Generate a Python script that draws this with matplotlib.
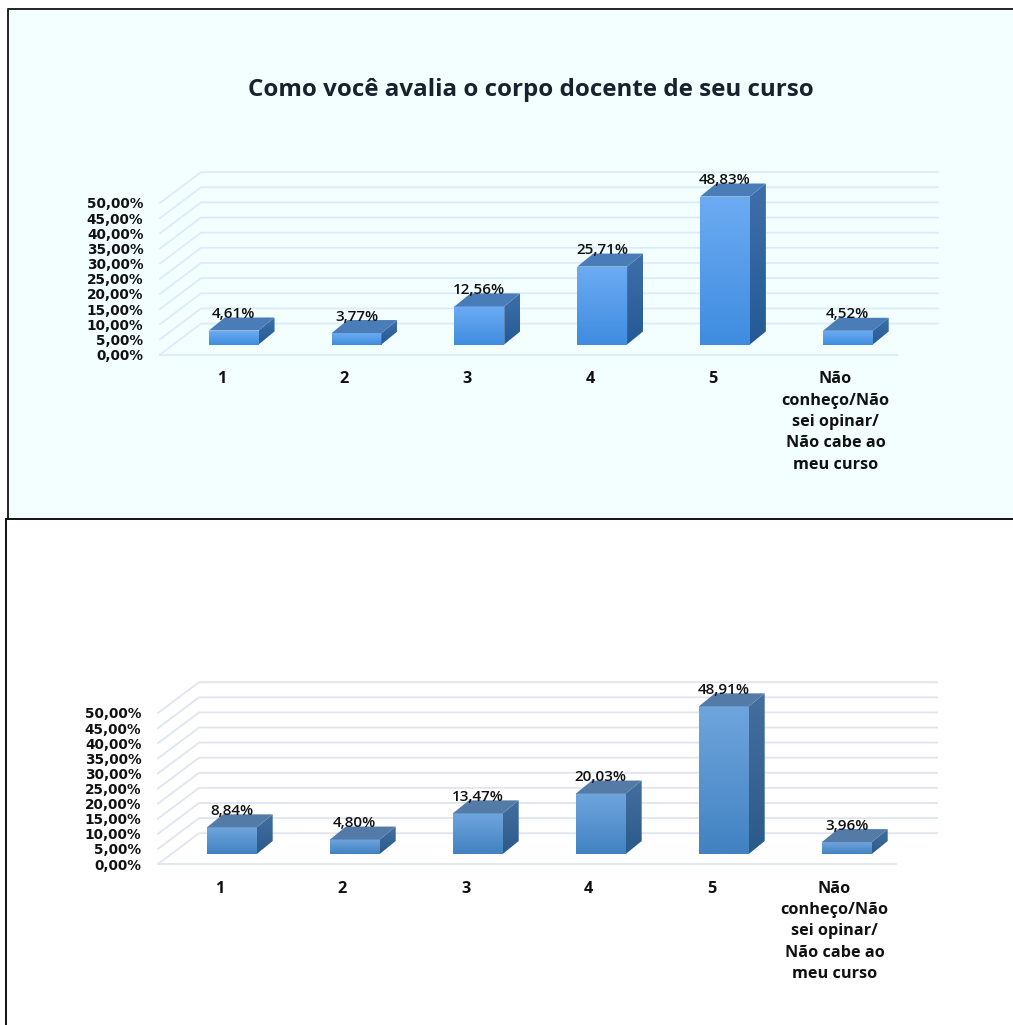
import matplotlib
matplotlib.use('Agg')
import matplotlib.pyplot as plt
import numpy as np
from matplotlib.colors import LinearSegmentedColormap
from matplotlib.patches import Polygon, Rectangle

W, H = 1013, 1025

categories = ['1', '2', '3', '4', '5', 'Não\nconheço/Não\nsei opinar/\nNão cabe ao\nmeu curso']
values_top = [4.61, 3.77, 12.56, 25.71, 48.83, 4.52]
values_bottom = [8.84, 4.80, 13.47, 20.03, 48.91, 3.96]
y_ticks = [0, 5, 10, 15, 20, 25, 30, 35, 40, 45, 50]
y_labels = ['0,00%', '5,00%', '10,00%', '15,00%', '20,00%', '25,00%',
            '30,00%', '35,00%', '40,00%', '45,00%', '50,00%']
title = 'Como você avalia o corpo docente de seu curso'

style_top = dict(grid='#dcebfb', front=('#3f8ce0', '#6cabf2'), side=('#245a96', '#3f6fa8'), roof='#4a7cb8')
style_bottom = dict(grid='#e0e5ee', front=('#4282c2', '#6fa5dd'), side=('#2b5b8b', '#436f9f'), roof='#547ba8')

plt.rcParams['font.family'] = ['Open Sans', 'DejaVu Sans']

fig = plt.figure(figsize=(W / 100, H / 100), dpi=100, facecolor='white')


def px_axes(left, right, top, bottom):
    return fig.add_axes([left / W, 1 - bottom / H, (right - left) / W, (bottom - top) / H])


def gradient(ax, x0, x1, y0, y1, colors, clip=None):
    cmap = LinearSegmentedColormap.from_list('g', colors)
    im = ax.imshow(np.linspace(1, 0, 64).reshape(-1, 1), cmap=cmap, extent=(x0, x1, y0, y1),
                   aspect='auto', zorder=3, interpolation='bilinear', clip_on=False)
    if clip is not None:
        clip.set_transform(ax.transData)
        im.set_clip_on(True)
        im.set_clip_box(fig.bbox)
        im.set_clip_path(clip)


def draw_chart(ax, values, st):
    wall_dx, wall_dy = 0.334, 10.2
    bar_w, bar_dx, bar_dy, lift = 0.405, 0.13, 4.3, 3.3

    for t in y_ticks:
        ax.plot([0, wall_dx, 6 + wall_dx], [t, t + wall_dy, t + wall_dy], color=st['grid'], lw=1.3,
                zorder=1, clip_on=False)
    ax.plot([0, 6], [0, 0], color=st['grid'], lw=1.3, zorder=1, clip_on=False)

    for i, v in enumerate(values):
        x0 = i + 0.6 - bar_w / 2
        x1 = x0 + bar_w
        y0, y1 = lift, lift + v
        gradient(ax, x0, x1, y0, y1, st['front'])
        side = [(x1, y0), (x1 + bar_dx, y0 + bar_dy), (x1 + bar_dx, y1 + bar_dy), (x1, y1)]
        gradient(ax, x1, x1 + bar_dx, y0, y1 + bar_dy, st['side'], clip=Polygon(side))
        ax.add_patch(Polygon([(x0, y1), (x1, y1), (x1 + bar_dx, y1 + bar_dy), (x0 + bar_dx, y1 + bar_dy)],
                             facecolor=st['roof'], edgecolor='none', zorder=3, clip_on=False))
        ax.text(i + 0.6, y1 + bar_dy + 1.1, f'{v:.2f}'.replace('.', ',') + '%', ha='center', va='center',
                fontsize=11, fontweight='semibold', color='#111111', zorder=5, clip_on=False)

    ax.set_xlim(0, 6)
    ax.set_ylim(0, 50)
    ax.set_xticks(np.arange(6) + 0.5)
    ax.set_xticklabels(categories, fontsize=11.7, fontweight='bold', color='#111111', linespacing=1.45)
    ax.set_yticks(y_ticks)
    ax.set_yticklabels(y_labels, fontsize=9.8, fontweight='bold', color='#111111', family='DejaVu Sans')
    ax.tick_params(length=0)
    ax.tick_params(axis='x', pad=12)
    ax.tick_params(axis='y', pad=12)
    for s in ax.spines.values():
        s.set_visible(False)
    ax.patch.set_alpha(0)


# fundo do painel de cima e molduras
fig.add_artist(Rectangle((8 / W, 1 - 518 / H), (W - 8) / W, 509 / H, transform=fig.transFigure,
                         facecolor='#f3ffff', edgecolor='none', zorder=-1))
fig.add_artist(plt.Line2D([8 / W, 8 / W, 1], [1 - 518 / H, 1 - 9 / H, 1 - 9 / H], color='#222222', lw=1.4))
fig.add_artist(plt.Line2D([6 / W, 1], [1 - 519 / H, 1 - 519 / H], color='#111111', lw=1.4))
fig.add_artist(plt.Line2D([6 / W, 6 / W], [1 - 519 / H, 0], color='#111111', lw=1.4))

ax1 = px_axes(160, 897, 203, 354.5)
draw_chart(ax1, values_top, style_top)

ax2 = px_axes(158, 896, 713, 864)
draw_chart(ax2, values_bottom, style_bottom)

fig.text(531 / W, 1 - 90 / H, title, ha='center', va='center', fontsize=17.4, fontweight='bold', color='#17222e')

fig.savefig('out.png', dpi=100)
